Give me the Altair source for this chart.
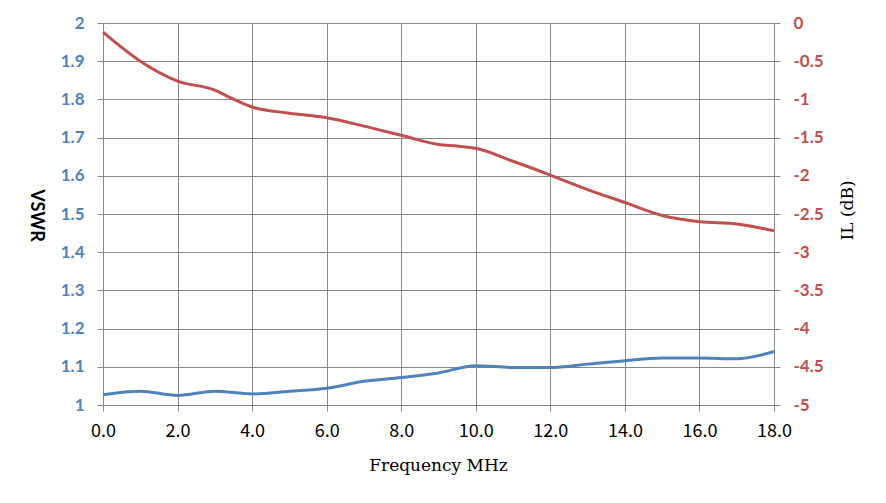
import altair as alt
import pandas as pd

freq = [0, 1, 2, 3, 3.3, 4, 5, 6, 7, 8, 9, 9.5, 10, 11, 12, 13, 14, 15, 16, 17, 18]
il = [-0.12, -0.50, -0.76, -0.88, -0.95, -1.10, -1.18, -1.24, -1.35, -1.47, -1.59, -1.61,
      -1.64, -1.81, -1.99, -2.18, -2.35, -2.52, -2.60, -2.63, -2.72]

freq_v = [0, 1, 2, 3, 4, 5, 6, 7, 8, 9, 10, 11, 12, 13, 14, 15, 16, 17, 18]
vswr = [1.027, 1.036, 1.025, 1.036, 1.029, 1.036, 1.044, 1.062, 1.072, 1.084, 1.103,
        1.098, 1.098, 1.107, 1.116, 1.123, 1.123, 1.121, 1.140]

x_ticks = [0, 2, 4, 6, 8, 10, 12, 14, 16, 18]
vswr_ticks = [1, 1.1, 1.2, 1.3, 1.4, 1.5, 1.6, 1.7, 1.8, 1.9, 2]
il_ticks = [0, -0.5, -1, -1.5, -2, -2.5, -3, -3.5, -4, -4.5, -5]

BLUE = "#4F81BD"
RED = "#C0504D"
GRID = "#878787"

df_v = pd.DataFrame({"f": freq_v, "v": vswr})
df_i = pd.DataFrame({"f": freq, "il": il})

x_enc = alt.X(
    "f:Q",
    scale=alt.Scale(domain=[0, 18], nice=False, zero=False),
    axis=alt.Axis(
        values=x_ticks, format=".1f", title="Frequency MHz",
        labelFont="Noto Sans CJK JP", labelFontSize=18, labelColor="#000000",
        labelBaseline="middle", labelPadding=20, tickSize=6, labelFlush=False,
        titleFont="DejaVu Serif", titleFontSize=17, titleFontWeight="normal",
        titleColor="#000000", titleX=335, titleY=60, titleBaseline="middle",
        grid=True, gridColor=GRID, domainColor=GRID, tickColor=GRID,
    ),
)

left = alt.Chart(df_v).mark_line(
    color=BLUE, strokeWidth=3, interpolate="monotone"
).encode(
    x=x_enc,
    y=alt.Y(
        "v:Q",
        scale=alt.Scale(domain=[1, 2], nice=False, zero=False),
        axis=alt.Axis(
            values=vswr_ticks, title="VSWR",
            labelExpr="replace(format(datum.value, '~g'), '\u2212', '-')",
            labelFont="Lato", labelFontWeight="bold", labelFontSize=17,
            labelColor=BLUE, labelPadding=13, tickSize=6, labelBaseline="middle",
            titleFont="Lato", titleFontWeight="bold", titleFontSize=18,
            titleColor="#000000", titleAngle=90, titleX=-68, titleY=192,
            titleAlign="center", titleBaseline="middle",
            grid=True, gridColor=GRID, domainColor=GRID, tickColor=GRID,
        ),
    ),
)

right = alt.Chart(df_i).mark_line(
    color=RED, strokeWidth=3, interpolate="monotone"
).encode(
    x=x_enc,
    y=alt.Y(
        "il:Q",
        scale=alt.Scale(domain=[-5, 0], nice=False, zero=False),
        axis=alt.Axis(
            orient="right", values=il_ticks, title="IL (dB)",
            labelExpr="replace(format(datum.value, '~g'), '\u2212', '-')",
            labelFont="Lato", labelFontWeight="bold", labelFontSize=17,
            labelColor=RED, labelPadding=13, tickSize=6, labelBaseline="middle",
            titleFont="DejaVu Serif", titleFontWeight="normal", titleFontSize=17,
            titleColor="#000000", titleAngle=270, titleX=73, titleY=187,
            titleAlign="center", titleBaseline="middle",
            grid=False, domainColor=GRID, tickColor=GRID,
        ),
    ),
)

chart = alt.layer(left, right).resolve_scale(y="independent").properties(
    width=671, height=382,
    autosize=alt.AutoSizeParams(type="none"),
    padding={"left": 95, "top": 15, "right": 100, "bottom": 80},
    background="#ffffff",
).configure_view(strokeWidth=0).configure_axis(gridWidth=1, domainWidth=1, tickWidth=1)

chart.save("out.html", embed_options={"renderer": "svg", "actions": False})
